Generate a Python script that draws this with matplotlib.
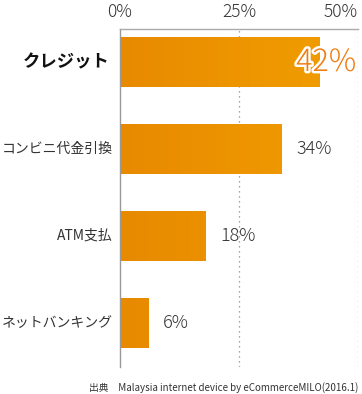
import numpy as np
import matplotlib
matplotlib.use("Agg")
import matplotlib.pyplot as plt
import matplotlib.patheffects as pe
from matplotlib.colors import LinearSegmentedColormap

plt.rcParams['font.family'] = ['Noto Sans CJK JP', 'DejaVu Sans']

categories = ["クレジット", "コンビニ代金引換", "ATM支払", "ネットバンキング"]
values = [42, 34, 18, 6]
value_labels = ["42%", "34%", "18%", "6%"]
xticks = [0, 25, 50]
xtick_labels = ["0%", "25%", "50%"]
source = "出典　Malaysia internet device by eCommerceMILO(2016.1)"

fig = plt.figure(figsize=(3.62, 3.94), dpi=100)
ax = fig.add_axes([120/362, 1-367/394, (358-120)/362, (367-29)/394])

y = np.arange(len(categories))
bh = 0.575
bars = ax.barh(y, values, height=bh, color="#EC8E00", zorder=2)

cmap = LinearSegmentedColormap.from_list("g", ["#E88A00", "#EE9600", "#F0A000"])
grad = np.linspace(0, 1, 256).reshape(1, -1)
for b, v in zip(bars, values):
    y0 = b.get_y()
    im = ax.imshow(grad, cmap=cmap, aspect='auto', extent=[0, 50, y0 + bh, y0],
                   zorder=2.5, vmin=0, vmax=1.6 - v / 50 * 0.6)
    im.set_clip_path(b)

ax.set_xlim(0, 50)
ax.set_ylim(3 + 0.506, -0.379)

for gx in [25, 50]:
    ax.axvline(gx, color="#888888", linestyle=(0, (1, 3)), linewidth=0.9, zorder=1)

for s in ["right", "bottom"]:
    ax.spines[s].set_visible(False)
ax.spines["left"].set_color("#999999")
ax.spines["top"].set_color("#aaaaaa")
ax.spines["left"].set_linewidth(1.0)
ax.spines["top"].set_linewidth(1.0)

ax.xaxis.tick_top()
ax.set_xticks(xticks)
ax.set_xticklabels(xtick_labels, fontsize=12.5, color="#333333", fontweight="light")
ax.get_xticklabels()[-1].set_horizontalalignment('right')
ax.tick_params(axis='x', length=0, pad=6)
ax.set_yticks([])

for i, cat in enumerate(categories):
    if i == 0:
        ax.text(-2.1, i, cat, ha='right', va='center', fontsize=12.5,
                fontweight='bold', color="#111111")
    else:
        ax.text(-1.5, i, cat, ha='right', va='center', fontsize=10.0,
                color="#333333")

for i, (v, lab) in enumerate(zip(values, value_labels)):
    if i == 0:
        t = ax.text(v - 5.0, i, lab, ha='left', va='center', fontsize=22,
                    color="#F07C10", fontweight='light', zorder=5)
        t.set_path_effects([pe.withStroke(linewidth=3.5, foreground='white')])
    else:
        ax.text(v + 3.0, i, lab, ha='left', va='center', fontsize=13,
                color="#333333", fontweight='light', zorder=5)

fig.text(358/362, 1-388/394, source, ha='right', va='center', fontsize=7.0,
         color="#333333")

fig.savefig("out.png", dpi=100)
